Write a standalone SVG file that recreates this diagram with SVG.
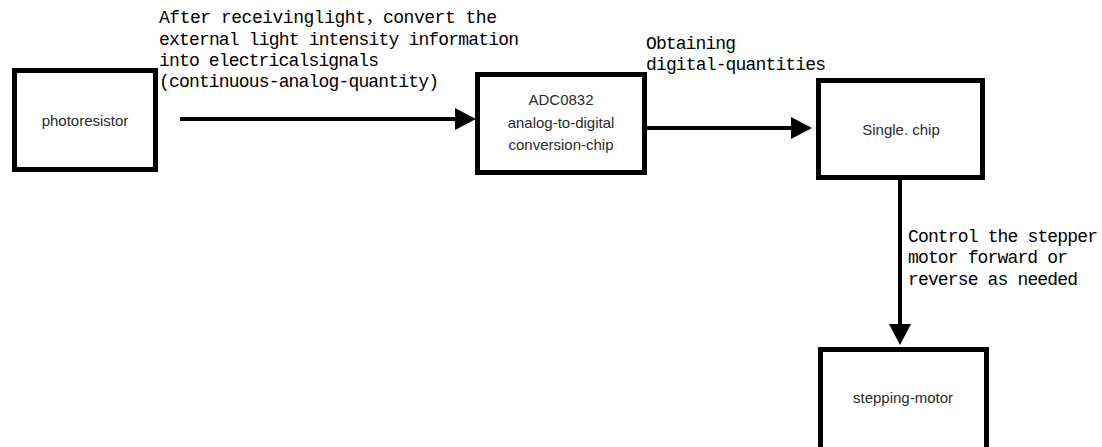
<svg xmlns="http://www.w3.org/2000/svg" width="1102" height="447" viewBox="0 0 1102 447">
  <style>
    .box { fill: #ffffff; stroke: #000000; stroke-width: 5; }
    .name { font-family: "Liberation Sans", Arial, sans-serif; font-size: 15px; fill: #2a2a2a; text-anchor: middle; }
    .wire { stroke: #000000; stroke-width: 4; fill: none; marker-end: url(#head); }
    .note { font-family: "Liberation Mono", "Noto Sans CJK SC", monospace; font-size: 18px; fill: #000000; }
  </style>
  <defs>
    <marker id="head" markerUnits="userSpaceOnUse" markerWidth="22" markerHeight="24" viewBox="0 0 22 24" refX="10" refY="11" orient="auto">
      <path d="M0,0 L21,11 L0,22 Z" fill="#000000"/>
    </marker>
  </defs>

  <rect width="1102" height="447" fill="#ffffff"/>

  <!-- connectors -->
  <g id="connectors">
    <line class="wire" x1="180" y1="119" x2="465" y2="119"/>
    <line class="wire" x1="647" y1="128" x2="801" y2="128"/>
    <line class="wire" x1="900" y1="180" x2="900" y2="334"/>
    <g id="connector-labels">
      <text class="note" x="159" y="23" textLength="338" lengthAdjust="spacing">After receivinglight，convert the</text>
      <text class="note" x="159" y="44.5" textLength="360" lengthAdjust="spacing">external light intensity information</text>
      <text class="note" x="159" y="66" textLength="220" lengthAdjust="spacing">into electricalsignals</text>
      <text class="note" x="159" y="87" textLength="280" lengthAdjust="spacing">(continuous-analog-quantity)</text>
      <text class="note" x="646" y="48.5" textLength="90" lengthAdjust="spacing">Obtaining</text>
      <text class="note" x="646" y="69.5" textLength="180" lengthAdjust="spacing">digital-quantities</text>
      <text class="note" x="908" y="241.5" textLength="190" lengthAdjust="spacing">Control the stepper</text>
      <text class="note" x="908" y="263" textLength="160" lengthAdjust="spacing">motor forward or</text>
      <text class="note" x="908" y="284.5" textLength="170" lengthAdjust="spacing">reverse as needed</text>
    </g>
  </g>

  <!-- nodes -->
  <g id="photoresistor">
    <rect class="box" x="14.5" y="70.5" width="141" height="99"/>
    <text class="name" x="85" y="125.5">photoresistor</text>
  </g>
  <g id="adc0832">
    <rect class="box" x="477.5" y="74.5" width="167" height="98"/>
    <text class="name" x="561" y="105">ADC0832</text>
    <text class="name" x="561" y="127.5">analog-to-digital</text>
    <text class="name" x="561" y="150">conversion-chip</text>
  </g>
  <g id="single-chip">
    <rect class="box" x="818.5" y="80.5" width="164" height="97"/>
    <text class="name" x="901" y="134.5">Single. chip</text>
  </g>
  <g id="stepping-motor">
    <rect class="box" x="820.5" y="349.5" width="166" height="110"/>
    <text class="name" x="903" y="403">stepping-motor</text>
  </g>
</svg>
